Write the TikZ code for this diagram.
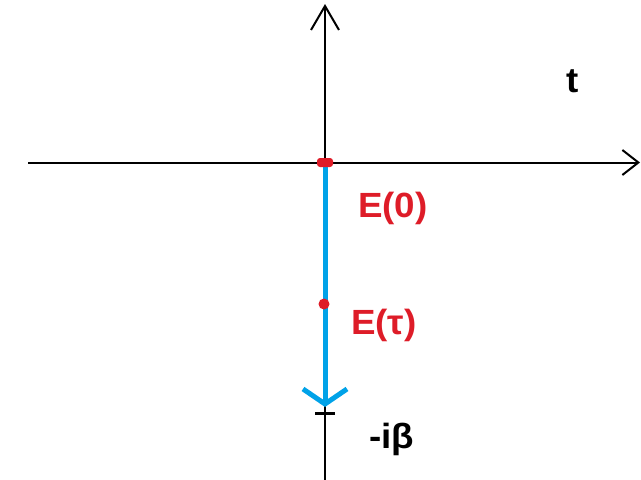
\documentclass[tikz,border=0pt]{standalone}
\usepackage{fontspec}
\setsansfont{Liberation Sans}
\usetikzlibrary{
  arrows.meta,
  positioning
}
\definecolor{pathBlue}{RGB}{0, 162, 232}
\definecolor{pointRed}{RGB}{222, 28, 40}

\begin{document}
\begin{tikzpicture}[
    x=1pt, y=-1pt,
    font=\sffamily\bfseries\fontsize{35}{40}\selectfont,
    axis/.style={draw=black, line width=2pt},
    vtip/.style={-{Straight Barb[length=24pt, width=28pt]}},
    htip/.style={-{Straight Barb[length=16pt, width=25pt]}},
    contour/.style={draw=pathBlue, line width=5pt, -{Straight Barb[length=15pt, width=44pt]}},
    dotmark/.style={circle, fill=pointRed, inner sep=0pt, minimum size=11pt},
    blobmark/.style={rectangle, rounded corners=3pt, fill=pointRed, inner sep=0pt, minimum width=16pt, minimum height=9pt},
    txt/.style={anchor=base west, inner sep=0pt, xscale=1.05}
]
    \useasboundingbox (0,0) rectangle (641,480);

    \coordinate (origin) at (325,162.5);
    \coordinate (top) at (325,4);
    \coordinate (bottom) at (325,480);
    \coordinate (left) at (28,162.5);
    \coordinate (right) at (640,162.5);
    \coordinate (end) at (325,407);
    \coordinate (beta) at (325,413);

    % axes
    \draw[axis, vtip] (bottom) -- (top);
    \draw[axis, htip] (left) -- (right);

    % imaginary-time path
    \draw[contour] (origin) -- (end);
    \draw[line width=3pt] ([xshift=-10pt]beta) -- ([xshift=10pt]beta);

    \node[blobmark] (zero) at (origin) {};
    \node[dotmark] (tau) at (324,304) {};

    \node[txt, text=pointRed] (zerolabel) at (358,217) {E(0)};
    \node[txt, text=pointRed] (taulabel) at (351,334) {E(τ)};
    \node[txt] (betalabel) at (369,448) {-iβ};
    \node[txt] (tlabel) at (566,92) {t};

\end{tikzpicture}
\end{document}
